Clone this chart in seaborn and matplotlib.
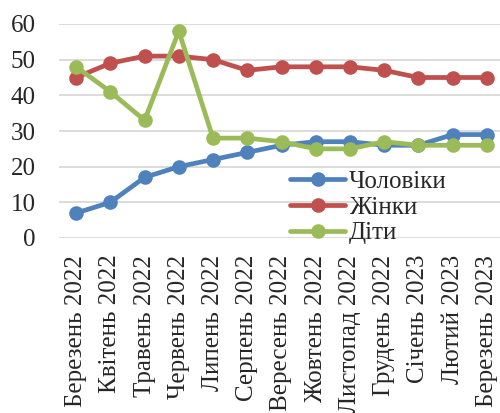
import pandas as pd
import matplotlib.pyplot as plt
import seaborn as sns

# Data
months = ["Березень 2022", "Квітень 2022", "Травень 2022", "Червень 2022",
          "Липень 2022", "Серпень 2022", "Вересень 2022", "Жовтень 2022",
          "Листопад 2022", "Грудень 2022", "Січень 2023", "Лютий 2023",
          "Березень 2023"]
men = [7, 10, 17, 20, 22, 24, 26, 27, 27, 26, 26, 29, 29]
women = [45, 49, 51, 51, 50, 47, 48, 48, 48, 47, 45, 45, 45]
children = [48, 41, 33, 58, 28, 28, 27, 25, 25, 27, 26, 26, 26]
series_names = ["Чоловіки", "Жінки", "Діти"]
colors = ["#4F81BD", "#C0504D", "#9BBB59"]

df = pd.DataFrame({"month": months * 3,
                   "value": men + women + children,
                   "group": [n for n in series_names for _ in months]})
df["pos"] = list(range(len(months))) * 3

sns.set_style("white")
plt.rcParams["font.family"] = ["Liberation Serif", "DejaVu Serif"]

fig = plt.figure(figsize=(5, 4.13), dpi=100)
ax = fig.add_axes([59 / 500, 1 - 238 / 413, 445 / 500, 214 / 413])

sns.lineplot(data=df, x="pos", y="value", hue="group", hue_order=series_names,
             palette=colors, marker="o", markersize=10.5, markeredgewidth=0,
             linewidth=3.4, ax=ax)

ax.set_xlim(-0.5, len(months) - 0.5)
ax.set_ylim(0, 60)
ax.set_yticks(range(0, 61, 10))
ax.set_xticks(range(len(months)))
ax.set_xticklabels(months, rotation=90)
ax.tick_params(axis="both", labelsize=18, length=0)
ax.tick_params(axis="y", pad=17)
ax.tick_params(axis="x", pad=12)
ax.yaxis.grid(True, color="#D9D9D9", linewidth=1.3)
ax.set_axisbelow(True)
for s in ax.spines.values():
    s.set_visible(False)
ax.set_xlabel("")
ax.set_ylabel("")

ax.legend(loc="lower left", bbox_to_anchor=(0.52, -0.03), frameon=False,
          fontsize=18, handlelength=2.2, handletextpad=0.15,
          labelspacing=0.13, borderaxespad=0, borderpad=0)

plt.savefig("out.png", dpi=100)
plt.close()
